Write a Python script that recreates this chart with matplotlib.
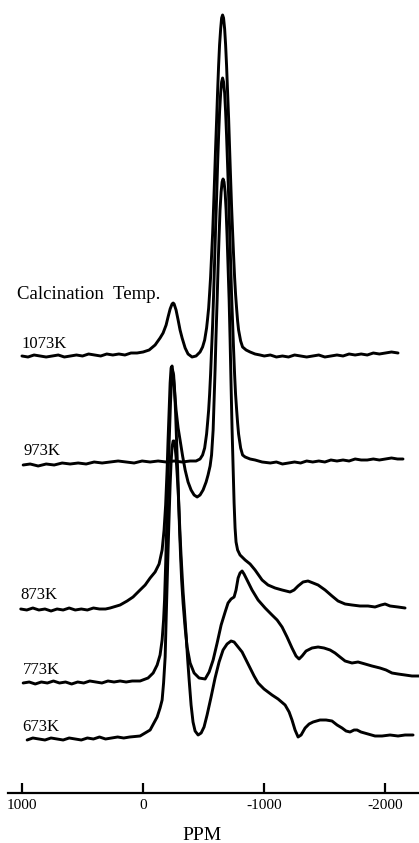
import matplotlib.pyplot as plt

plt.rcParams['font.family'] = ['Liberation Serif', 'DejaVu Serif']

# spectra: (ppm, intensity above own baseline)
s1073 = [(1000, -1), (950, -2), (900, 0), (850, -1), (800, -2), (750, -1), (700, 0), (650, -2),
         (600, -1), (550, 0), (500, -1), (450, 1), (400, 0), (350, -1), (300, 1), (250, 0),
         (200, 1), (150, 0), (100, 2), (50, 2), (0, 3), (-50, 5), (-99, 10), (-140, 17),
         (-165, 22), (-190, 30), (-206, 38), (-223, 46), (-239, 51), (-248, 52), (-256, 51),
         (-272, 45), (-289, 35), (-305, 25), (-322, 17), (-347, 7), (-371, 1), (-404, -2),
         (-437, -1), (-470, 3), (-491, 8), (-508, 15), (-524, 27), (-532, 36), (-541, 47),
         (-549, 62), (-557, 78), (-565, 99), (-574, 122), (-582, 149), (-590, 177), (-598, 206),
         (-607, 236), (-615, 264), (-623, 289), (-631, 310), (-640, 326), (-648, 337), (-656, 340),
         (-664, 337), (-673, 326), (-681, 310), (-689, 289), (-697, 264), (-706, 236), (-714, 206),
         (-722, 177), (-730, 149), (-739, 122), (-747, 99), (-755, 78), (-763, 61), (-772, 46),
         (-780, 34), (-788, 25), (-805, 14), (-821, 8), (-850, 5), (-883, 3), (-924, 1), (-965, 0),
         (-1000, -1), (-1050, 0), (-1100, -2), (-1150, -1), (-1200, -2), (-1250, 0), (-1300, -1),
         (-1350, -2), (-1400, -1), (-1450, 0), (-1500, -2), (-1550, -1), (-1600, 0), (-1650, -1),
         (-1700, 1), (-1750, 0), (-1800, 1), (-1850, 0), (-1900, 2), (-1950, 1), (-2000, 2),
         (-2050, 3), (-2104, 2)]

s973 = [(990, -3), (932, -2), (866, -4), (800, -2), (734, -3), (668, -1), (602, -2), (536, -1),
        (470, -2), (404, 0), (338, -1), (272, 0), (206, 1), (140, 0), (74, -1), (8, 1), (-58, 0),
        (-124, 1), (-190, 0), (-256, 1), (-322, 0), (-388, 1), (-437, 1), (-470, 3), (-491, 7),
        (-508, 14), (-524, 28), (-532, 39), (-541, 52), (-549, 68), (-557, 88), (-565, 112),
        (-574, 138), (-582, 168), (-590, 200), (-598, 233), (-607, 266), (-615, 298), (-623, 326),
        (-631, 350), (-640, 369), (-648, 380), (-656, 384), (-664, 380), (-673, 369), (-681, 350),
        (-689, 326), (-697, 298), (-706, 266), (-714, 233), (-722, 200), (-730, 168), (-739, 138),
        (-747, 112), (-755, 88), (-763, 68), (-772, 52), (-780, 39), (-788, 28), (-805, 14),
        (-821, 7), (-842, 5), (-883, 3), (-924, 2), (-982, 0), (-1050, -1), (-1100, 0),
        (-1150, -2), (-1200, -1), (-1250, 0), (-1300, -1), (-1350, 1), (-1400, 0), (-1450, 1),
        (-1500, 0), (-1550, 2), (-1600, 1), (-1650, 2), (-1700, 1), (-1750, 3), (-1800, 2),
        (-1850, 2), (-1900, 3), (-1950, 2), (-2000, 3), (-2050, 4), (-2100, 3), (-2145, 3)]

s873 = [(1010, 0), (960, -1), (910, 1), (860, -1), (810, 0), (760, -2), (710, 0), (660, -1),
        (610, 1), (560, -1), (510, 0), (460, -1), (410, 1), (360, 0), (310, 0), (272, 1), (190, 4),
        (132, 8), (83, 12), (25, 19), (-17, 24), (-58, 31), (-99, 37), (-132, 45), (-157, 59),
        (-173, 79), (-186, 104), (-198, 139), (-206, 169), (-215, 199), (-223, 226), (-231, 241),
        (-239, 243), (-248, 235), (-260, 217), (-272, 199), (-289, 181), (-305, 169), (-326, 153),
        (-347, 139), (-371, 127), (-396, 119), (-421, 114), (-446, 112), (-470, 114), (-495, 119),
        (-520, 127), (-536, 134), (-553, 143), (-565, 154), (-578, 179), (-586, 209), (-594, 239),
        (-602, 274), (-611, 309), (-619, 343), (-627, 373), (-635, 399), (-644, 417), (-652, 427),
        (-660, 430), (-668, 427), (-677, 417), (-685, 399), (-693, 373), (-701, 343), (-710, 309),
        (-718, 269), (-726, 224), (-734, 181), (-743, 141), (-751, 106), (-759, 81), (-767, 67),
        (-780, 59), (-800, 54), (-842, 49), (-883, 45), (-924, 39), (-982, 29), (-1031, 24),
        (-1089, 21), (-1147, 19), (-1213, 17), (-1246, 19), (-1279, 23), (-1320, 27), (-1361, 28),
        (-1403, 26), (-1444, 24), (-1502, 19), (-1559, 13), (-1609, 8), (-1667, 5), (-1724, 4),
        (-1790, 3), (-1856, 3), (-1914, 2), (-1964, 4), (-1997, 5), (-2038, 3), (-2104, 2),
        (-2162, 1)]

s773 = [(990, -1), (940, 0), (890, -2), (840, 0), (790, -1), (740, 1), (690, -1), (640, 0),
        (590, -2), (540, 0), (490, -1), (440, 1), (390, 0), (340, -1), (290, 1), (240, 0),
        (190, 1), (140, 0), (90, 1), (25, 1), (-41, 4), (-83, 9), (-116, 17), (-140, 27),
        (-157, 42), (-169, 62), (-177, 82), (-186, 117), (-194, 152), (-202, 187), (-210, 222),
        (-219, 254), (-227, 282), (-235, 302), (-243, 311), (-252, 307), (-260, 292), (-268, 270),
        (-276, 242), (-285, 212), (-293, 182), (-301, 152), (-310, 124), (-318, 102), (-330, 79),
        (-347, 54), (-363, 35), (-388, 19), (-421, 9), (-462, 4), (-512, 3), (-545, 10),
        (-578, 22), (-611, 39), (-644, 57), (-677, 70), (-701, 79), (-726, 83), (-751, 85),
        (-767, 92), (-784, 104), (-800, 109), (-817, 111), (-833, 108), (-858, 102), (-899, 92),
        (-949, 82), (-1007, 74), (-1064, 67), (-1106, 62), (-1147, 55), (-1188, 45), (-1229, 34),
        (-1262, 26), (-1287, 23), (-1312, 26), (-1345, 31), (-1394, 34), (-1444, 35), (-1493, 34),
        (-1543, 32), (-1584, 29), (-1625, 25), (-1667, 21), (-1724, 19), (-1774, 20), (-1832, 18),
        (-1889, 16), (-1955, 14), (-2005, 12), (-2054, 9), (-2104, 8), (-2162, 7), (-2219, 6),
        (-2277, 6)]

s673 = [(957, -2), (910, 0), (860, -1), (810, -2), (760, 0), (710, -1), (660, -2), (610, 0),
        (560, -1), (510, -2), (460, 0), (410, -1), (360, 1), (310, -1), (260, 0), (210, 1),
        (160, 0), (110, 1), (25, 2), (-58, 8), (-116, 21), (-140, 30), (-157, 38), (-169, 55),
        (-182, 81), (-190, 118), (-198, 153), (-206, 188), (-215, 223), (-223, 253), (-231, 276),
        (-239, 291), (-248, 297), (-256, 297), (-264, 291), (-272, 281), (-280, 266), (-289, 248),
        (-297, 226), (-305, 203), (-313, 183), (-322, 163), (-330, 146), (-342, 126), (-355, 103),
        (-367, 80), (-380, 58), (-396, 33), (-412, 16), (-429, 7), (-454, 3), (-479, 5), (-503, 11),
        (-528, 23), (-561, 41), (-594, 60), (-627, 76), (-660, 88), (-693, 94), (-726, 97),
        (-751, 96), (-784, 91), (-817, 86), (-850, 78), (-883, 70), (-916, 62), (-949, 55),
        (-998, 49), (-1064, 43), (-1114, 39), (-1172, 33), (-1205, 26), (-1229, 18), (-1254, 8),
        (-1279, 1), (-1304, 3), (-1337, 10), (-1370, 14), (-1403, 16), (-1460, 18), (-1510, 18),
        (-1559, 17), (-1601, 13), (-1642, 10), (-1675, 7), (-1708, 6), (-1741, 8), (-1766, 8),
        (-1798, 6), (-1856, 4), (-1914, 2), (-1972, 2), (-2038, 3), (-2104, 2), (-2162, 3),
        (-2228, 3)]

spectra = [s1073, s973, s873, s773, s673]
temps = ['1073K', '973K', '873K', '773K', '673K']

tick_pos = [1000, 0, -1000, -2000]
tick_lab = ['1000', '0', '-1000', '-2000']

# layout (pixels of the 419x843 picture)
W, H = 419, 843
offsets = [438, 331, 184, 111, 55]
label_xy = [(21, 347.5), (23, 455), (20, 599), (23, 674), (22, 731)]

fig = plt.figure(figsize=(W / 100, H / 100), dpi=100)
ax = fig.add_axes([8 / W, 50 / H, 411 / W, 793 / H])

for spec, off in zip(spectra, offsets):
    xs = [p[0] for p in spec]
    ys = [p[1] + off for p in spec]
    ax.plot(xs, ys, color='black', lw=2.1, solid_joinstyle='round', solid_capstyle='round')

ax.set_xlim(1115, -2277)
ax.set_ylim(0, 793)
for s in ['left', 'right', 'top']:
    ax.spines[s].set_visible(False)
ax.spines['bottom'].set_linewidth(1.6)
ax.set_yticks([])
ax.set_xticks(tick_pos)
ax.set_xticklabels(tick_lab)
ax.tick_params(axis='x', direction='in', length=7, width=1.6, labelsize=11, pad=4)

fig.text(17 / W, 1 - 299 / H, 'Calcination  Temp.', fontsize=13.5, va='baseline', ha='left')
for t, (lx, ly) in zip(temps, label_xy):
    fig.text(lx / W, 1 - ly / H, t, fontsize=12, va='baseline', ha='left')

fig.text(202 / W, 1 - 840 / H, 'PPM', fontsize=14, va='baseline', ha='center')

fig.savefig('out.png', dpi=100)
